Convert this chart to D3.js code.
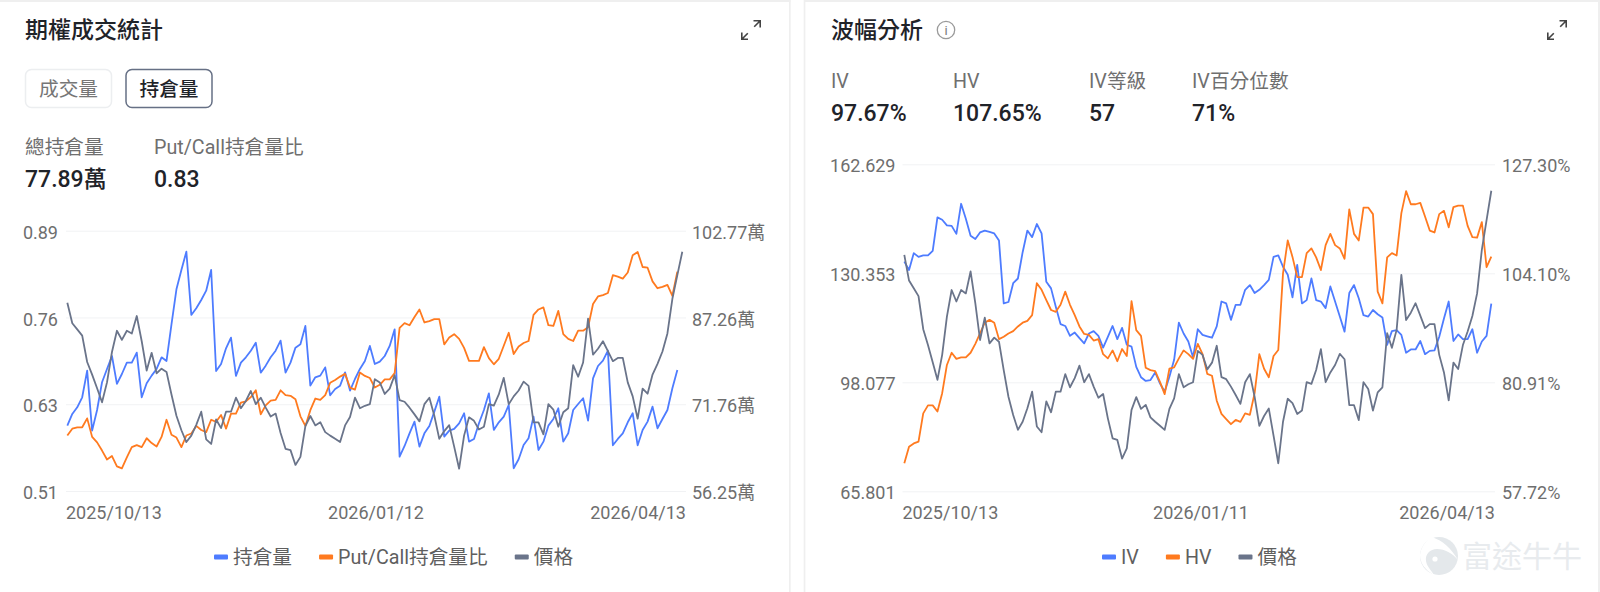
<!DOCTYPE html>
<html><head><meta charset="utf-8">
<script src="https://cdnjs.cloudflare.com/ajax/libs/d3/7.8.5/d3.min.js"></script>
<style>
html,body{margin:0;padding:0;background:#fff;overflow:hidden}
svg{display:block}
text{font-family:Roboto,"Noto Sans CJK TC",sans-serif}
</style></head><body>
<svg id="c" width="1600" height="592"></svg>
<script>
// Underlying price (same series on both panels; hidden axis on the left panel)
const priceValues=[135.8,128.2,125.9,123.6,113.8,109.1,104.0,98.8,106.2,117.5,125.4,122.0,125.4,124.4,130.9,121.5,110.6,117.2,109.6,111.3,110.1,101.7,93.8,88.4,84.0,86.4,90.4,95.3,85.0,83.3,92.4,89.2,95.3,95.3,100.5,96.6,99.3,103.0,98.1,100.5,96.8,93.5,94.6,87.4,81.5,81.0,75.5,78.5,89.9,93.7,90.2,91.4,87.7,86.4,85.2,84.0,90.2,93.3,100.5,96.6,97.5,98.1,107.4,106.2,101.9,103.9,108.9,99.6,99.0,96.8,94.3,91.7,98.1,100.5,93.8,85.2,88.1,90.3,82.3,74.1,86.4,93.2,91.9,88.7,89.7,98.1,97.6,101.7,107.9,98.1,101.0,103.2,106.5,104.9,91.3,91.3,86.9,98.1,96.1,89.7,95.1,96.6,112.6,108.3,113.6,129.9,116.5,118.7,121.5,117.8,114.1,115.3,115.3,106.2,101.0,92.7,103.9,102.0,109.1,113.1,117.7,124.4,137.3,146.1,154.8];
// Open interest, in 萬
const openInterest=[67.93,70.02,71.21,73.0,77.76,67.04,70.73,75.68,78.06,80.38,75.38,77.16,79.19,79.19,80.98,73.0,75.5,76.87,78.06,80.14,79.49,86.04,92.29,95.75,99.02,87.71,88.9,90.39,92.05,95.75,77.7,78.95,81.75,83.66,76.81,79.19,80.14,81.33,82.76,77.4,78.65,80.14,81.33,83.12,77.4,79.19,81.87,82.46,85.74,75.08,76.57,76.87,78.35,73.35,74.48,75.08,77.46,74.19,76.27,78.06,79.49,82.17,78.95,79.37,80.38,82.17,85.14,62.39,64.3,66.56,68.65,64.18,66.56,67.87,70.43,73.11,65.97,67.04,67.34,68.35,70.14,65.07,65.55,68.35,70.73,73.71,67.16,68.53,69.54,71.62,60.31,61.92,64.48,65.67,69.54,63.58,65.07,67.93,69.12,71.03,65.07,66.56,70.73,71.8,72.82,68.83,76.39,78.59,79.55,81.33,64.42,65.55,66.56,68.53,70.14,64.42,67.16,68.65,71.33,67.46,69.12,70.73,74.6,77.89];
// Put/Call open-interest ratio
const putCallRatio=[.591,.601,.603,.603,.616,.589,.581,.569,.556,.561,.546,.543,.559,.574,.577,.574,.587,.580,.575,.589,.614,.592,.588,.574,.591,.594,.605,.599,.596,.614,.611,.621,.601,.623,.623,.639,.641,.647,.657,.622,.635,.642,.643,.657,.650,.649,.644,.619,.605,.628,.645,.643,.650,.668,.672,.677,.681,.661,.658,.683,.678,.675,.661,.665,.673,.673,.682,.748,.755,.752,.764,.775,.756,.758,.761,.761,.724,.734,.739,.732,.719,.700,.700,.700,.720,.704,.695,.703,.722,.741,.710,.721,.726,.729,.767,.775,.778,.752,.751,.773,.739,.732,.729,.744,.744,.749,.783,.794,.796,.799,.825,.823,.820,.829,.854,.859,.837,.836,.816,.806,.808,.811,.795,.83];
// Implied volatility, %
const ivValues=[106.6,104.8,108.4,107.6,107.9,107.9,108.9,116.0,115.5,114.3,114.2,112.5,118.9,115.7,112.1,111.4,112.8,113.2,112.9,112.6,111.1,97.7,98.0,102.0,103.0,108.6,113.2,111.8,114.6,112.6,102.3,100.9,97.0,93.3,92.9,90.8,91.5,90.3,89.2,91.3,91.8,90.8,88.3,90.6,92.9,90.1,92.5,88.9,88.5,84.2,82.0,81.2,81.4,83.0,80.7,78.9,82.1,85.7,93.6,91.3,89.6,86.2,92.2,91.0,90.7,90.4,92.8,98.1,97.7,94.2,97.4,97.4,100.6,101.6,99.9,100.6,101.6,102.7,107.6,107.9,105.5,103.8,99.0,105.9,97.7,98.4,103.0,98.4,98.1,96.7,101.3,98.1,94.9,91.7,99.9,101.6,98.8,95.2,94.9,96.3,95.4,94.7,88.9,91.8,92.0,91.0,87.2,87.9,87.9,89.7,86.9,87.6,87.7,90.6,94.5,98.1,89.7,91.1,90.1,90.1,92.2,87.2,89.6,90.8,97.67];
// Historical volatility, %
const hvValues=[63.7,67.2,67.9,68.3,74.3,76.0,76.0,74.7,78.6,84.6,87.2,85.9,86.2,86.2,87.2,89.1,91.3,93.6,94.2,93.6,90.1,90.6,91.3,91.8,92.8,93.6,94.0,95.2,102.0,100.6,98.4,96.3,95.9,97.4,100.2,97.4,95.2,92.8,91.2,91.0,89.8,90.1,86.9,86.0,87.7,85.4,88.0,86.5,98.2,92.0,90.8,84.0,83.5,83.3,81.0,78.4,83.8,84.1,86.0,87.7,86.9,85.9,89.1,86.9,82.7,82.3,77.0,74.2,73.1,72.0,72.9,72.5,74.3,74.0,78.6,86.9,83.8,82.0,86.5,87.8,104.1,111.1,107.6,103.3,103.3,108.4,109.4,107.5,104.8,110.1,112.5,110.1,109.4,107.2,117.7,112.5,111.1,118.1,118.1,116.7,100.2,97.7,107.5,108.4,107.9,116.9,121.6,118.8,118.8,119.1,116.2,113.2,112.8,116.7,117.4,113.9,118.2,118.5,118.5,114.2,111.8,111.7,115.0,105.4,107.65];
const oiTickLabels=["102.77萬","87.26萬","71.76萬","56.25萬"];
const ratioTickLabels=["0.89","0.76","0.63","0.51"];
const priceTickLabels=["162.629","130.353","98.077","65.801"];
const volTickLabels=["127.30%","104.10%","80.91%","57.72%"];
const leftDates=["2025/10/13","2026/01/12","2026/04/13"];
const rightDates=["2025/10/13","2026/01/11","2026/04/13"];
const dateIndexes=[0,62,124];
const leftLegend=["持倉量","Put/Call持倉量比","價格"];
const rightLegend=["IV","HV","價格"];
const leftStats=[["總持倉量","77.89萬"],["Put/Call持倉量比","0.83"]];
const rightStats=[["IV","97.67%"],["HV","107.65%"],["IV等級","57"],["IV百分位數","71%"]];

const BLUE="#4e7cff",ORANGE="#ff7a1f",GREY="#6a748a",INK="#1f2329",MUTED="#6f6f6f",AXIS="#6e6e6e",GRID="#f1f2f4";
const AXIS_SIZE=18,LABEL_SIZE=19.7,VALUE_SIZE=23,TITLE_SIZE=23;
const svg=d3.select("#c");
svg.append("rect").attr("width",1600).attr("height",592).attr("fill","#fff");
[[0,0,790.5,2],[804,0,796,2],[789,0,1.7,592],[803.7,0,1.7,592],[1598,0,2,592]].forEach(r=>
  svg.append("rect").attr("x",r[0]).attr("y",r[1]).attr("width",r[2]).attr("height",r[3]).attr("fill","#efefef"));

function txt(t,x,y,size,fill,weight,anchor){
  return svg.append("text").attr("x",x).attr("y",y).attr("font-size",size).attr("fill",fill)
    .attr("font-weight",weight||400).attr("text-anchor",anchor||"start").attr("dominant-baseline","central").text(t);
}
function expand(x,y){
  const g=svg.append("g").attr("transform",`translate(${x},${y})`).attr("fill","none").attr("stroke","#444").attr("stroke-width",1.6);
  g.append("path").attr("d","M12.5 0.8H19.2V7.5M19.2 0.8L13.2 6.8");
  g.append("path").attr("d","M7 19.2H0.8V12.5M0.8 19.2L6.8 13.2");
}
function panel(o){
  const x=d3.scaleLinear().domain([0,124]).range(o.xr);
  const tickPos=d=>d3.range(4).map(i=>d[1]-(d[1]-d[0])*i/3);
  const yL=d3.scaleLinear().domain(o.left).range(o.yr);
  const yR=d3.scaleLinear().domain(o.right).range(o.yr);
  const gL=svg.append("g").attr("transform",`translate(${o.gx[0]},0)`).call(
    d3.axisLeft(yL).tickValues(tickPos(o.left)).tickSize(-(o.gx[1]-o.gx[0])).tickPadding(o.padL).tickFormat((d,i)=>o.leftLabels[i]));
  const gR=svg.append("g").attr("transform",`translate(${o.gx[1]},0)`).call(
    d3.axisRight(yR).tickValues(tickPos(o.right)).tickSize(0).tickPadding(o.padR).tickFormat((d,i)=>o.rightLabels[i]));
  [gL,gR].forEach(g=>{g.select(".domain").remove();
    g.selectAll("text").attr("font-size",AXIS_SIZE).attr("fill",AXIS).attr("dy","0.42em").style("font-family",'Roboto,"Noto Sans CJK TC",sans-serif');});
  gL.selectAll("line").attr("stroke",GRID).attr("stroke-width",1);
  const gX=svg.append("g").attr("transform",`translate(0,${o.dateY})`).call(
    d3.axisBottom(x).tickValues(dateIndexes).tickSize(0).tickPadding(0).tickFormat((d,i)=>o.dates[i]));
  gX.select(".domain").remove();
  gX.selectAll("text").attr("font-size",AXIS_SIZE).attr("fill",AXIS).attr("y",0).attr("dy","0.36em")
    .style("font-family",'Roboto,"Noto Sans CJK TC",sans-serif')
    .attr("text-anchor",(d,i)=>["start","middle","end"][i]);
  gX.selectAll(".tick").attr("transform",(d,i)=>`translate(${[o.gx[0],o.midX,o.gx[1]][i]},0)`);
  o.series.forEach(s=>{
    const sc=s.axis==="left"?yL:s.axis==="right"?yR:d3.scaleLinear().domain(s.domain).range(o.yr);
    svg.append("path").datum(s.values).attr("fill","none").attr("stroke",s.color).attr("stroke-width",1.8)
      .attr("stroke-linejoin","round").attr("d",d3.line().x((d,i)=>x(i)).y(d=>sc(d)));
  });
}
const priceDomain=[65.801,162.629];
panel({xr:[67.33,682.3],gx:[66,686],yr:[491,230.7],left:[0.51,0.89],right:[56.25,102.77],
  leftLabels:ratioTickLabels,rightLabels:oiTickLabels,padL:8,padR:6,dates:leftDates,dateY:513,midX:376,
  series:[{values:openInterest,color:BLUE,axis:"right"},{values:putCallRatio,color:ORANGE,axis:"left"},{values:priceValues,color:GREY,domain:priceDomain}]});
panel({xr:[904.3,1491.3],gx:[902.5,1495],yr:[491.3,164.3],left:priceDomain,right:[57.72,127.30],
  leftLabels:priceTickLabels,rightLabels:volTickLabels,padL:7,padR:7,dates:rightDates,dateY:513,midX:1201,
  series:[{values:ivValues,color:BLUE,axis:"right"},{values:hvValues,color:ORANGE,axis:"right"},{values:priceValues,color:GREY,axis:"left"}]});

// headers
txt("期權成交統計",25,30.5,TITLE_SIZE,INK,500);
expand(741,20);
svg.append("rect").attr("x",25.5).attr("y",69.5).attr("width",86).attr("height",38).attr("rx",6).attr("fill","#fff").attr("stroke","#eceef0").attr("stroke-width",1.5);
txt("成交量",68.5,89,LABEL_SIZE,"#767676",400,"middle");
svg.append("rect").attr("x",126).attr("y",69.5).attr("width",86).attr("height",38).attr("rx",6).attr("fill","#fff").attr("stroke","#667085").attr("stroke-width",1.5);
txt("持倉量",169,89,LABEL_SIZE,INK,500,"middle");
[25,154].forEach((px,i)=>{txt(leftStats[i][0],px,147,LABEL_SIZE,MUTED);txt(leftStats[i][1],px,179.5,VALUE_SIZE,INK,500);});
txt("波幅分析",831,30.5,TITLE_SIZE,INK,500);
const info=svg.append("g").attr("transform","translate(946,30)");
info.append("circle").attr("r",8.7).attr("fill","none").attr("stroke","#9a9a9a").attr("stroke-width",1.3);
info.append("text").attr("text-anchor","middle").attr("dominant-baseline","central").attr("font-size",13).attr("fill","#7a7a7a").attr("font-family","Liberation Serif").text("i");
expand(1547,20);
[831,953,1089,1192].forEach((px,i)=>{txt(rightStats[i][0],px,81,LABEL_SIZE,MUTED);txt(rightStats[i][1],px,113.5,VALUE_SIZE,INK,500);});

function legend(items,colors,startX){
  let px=startX;
  items.forEach((t,i)=>{
    svg.append("rect").attr("x",px).attr("y",554.5).attr("width",14).attr("height",5).attr("rx",1).attr("fill",colors[i]);
    const tn=txt(t,px+19,557,LABEL_SIZE,"#5f5f5f");
    px+=19+tn.node().getComputedTextLength()+27;
  });
}
legend(leftLegend,[BLUE,ORANGE,GREY],214);
legend(rightLegend,[BLUE,ORANGE,GREY],1102);

// watermark
const wm=svg.append("g").attr("transform","translate(1439,556)");
wm.append("circle").attr("r",19).attr("fill","#e4e8eb");
wm.append("path").attr("d","M-7 -19C4 -15 12 -8 19 4C13 -3 6 -7 -2 -7C-9 -7 -14 -2 -13 5C-12 11 -7 15 -5 19C-14 14 -19 7 -19 -1C-18 -9 -13 -16 -7 -19Z").attr("fill","#fff");
wm.append("circle").attr("cx",-4).attr("cy",3).attr("r",2.6).attr("fill","#fff");
txt("富途牛牛",1462,556,30,"#e8ebee",400);
</script></body></html>
